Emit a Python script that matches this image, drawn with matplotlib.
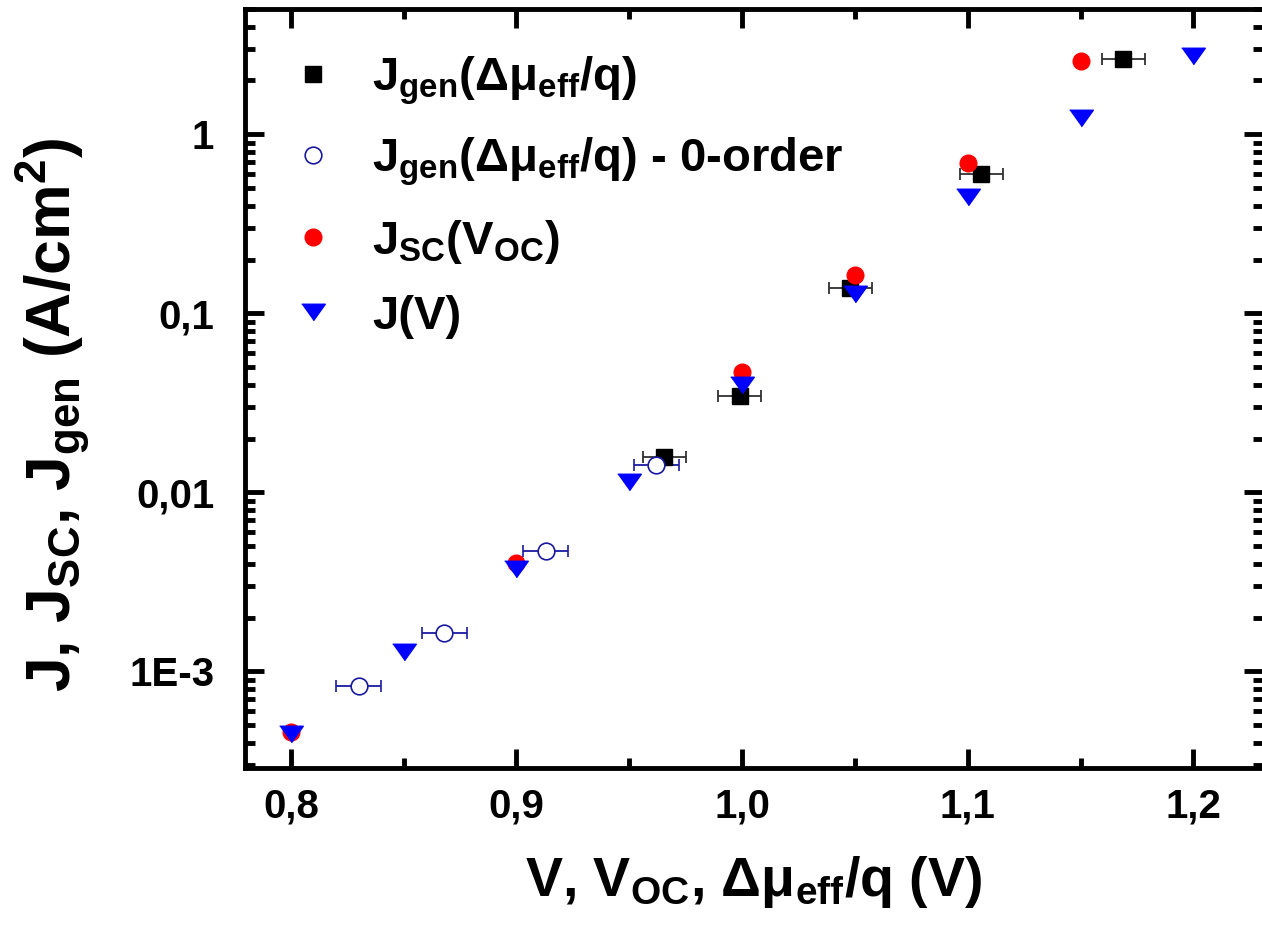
import matplotlib
matplotlib.use("Agg")
import matplotlib.pyplot as plt
from matplotlib.lines import Line2D
from matplotlib.ticker import FixedLocator, LogLocator, MultipleLocator, FuncFormatter, NullFormatter

plt.rcParams['font.family'] = ['Liberation Sans', 'DejaVu Sans']
plt.rcParams['font.weight'] = 'bold'
plt.rcParams['mathtext.fontset'] = 'custom'
plt.rcParams['mathtext.rm'] = 'Liberation Sans:bold'
plt.rcParams['mathtext.it'] = 'Liberation Sans:bold'
plt.rcParams['mathtext.bf'] = 'Liberation Sans:bold'
plt.rcParams['mathtext.sf'] = 'Liberation Sans:bold'

# J_gen(dmu_eff/q)
v_gen = [0.9655, 0.999, 1.048, 1.106, 1.169]
j_gen = [0.0157, 0.0344, 0.138, 0.598, 2.62]
err_gen = [0.0095, 0.0095, 0.0095, 0.0095, 0.0095]

# J_gen 0-order
v_gen0 = [0.830, 0.868, 0.913, 0.962]
j_gen0 = [8.35e-4, 1.65e-3, 4.74e-3, 0.0143]
err_gen0 = [0.01, 0.01, 0.01, 0.01]

# J_SC(V_OC)
v_oc = [0.80, 0.90, 1.00, 1.05, 1.10, 1.15]
j_sc = [4.57e-4, 4.06e-3, 0.0468, 0.163, 0.689, 2.56]

# J(V)
v_jv = [0.80, 0.85, 0.90, 0.95, 1.00, 1.05, 1.10, 1.15, 1.20]
j_jv = [4.5e-4, 1.28e-3, 3.72e-3, 0.0115, 0.0396, 0.128, 0.445, 1.24, 2.73]

ytick_vals = [1e-3, 1e-2, 1e-1, 1]
ytick_text = ['1E-3', '0,01', '0,1', '1']

lab_gen = r'J$_{\mathregular{gen}}$($\mathregular{\Delta\mu_{eff}}$/q)'
lab_gen0 = r'J$_{\mathregular{gen}}$($\mathregular{\Delta\mu_{eff}}$/q) - 0-order'
lab_sc = r'J$_{\mathregular{SC}}$(V$_{\mathregular{OC}}$)'
lab_jv = 'J(V)'

fig = plt.figure(figsize=(12.62, 9.25), dpi=100)
ax = fig.add_axes([0.194, 0.170, 0.807, 0.820])

tri = [(-1, 0.7), (1, 0.7), (0, -0.7)]

ax.errorbar(v_gen, j_gen, xerr=err_gen, fmt='s', color='black', ms=11,
            ecolor='#303030', elinewidth=1.3, capsize=4.5, capthick=1.3, zorder=3)
ax.errorbar(v_gen0, j_gen0, xerr=err_gen0, fmt='o', mfc='white', mec='#1a1aa0',
            mew=1.2, ms=12, ecolor='#1a1aa0', elinewidth=1.3, capsize=4.5, capthick=1.3, zorder=3)
ax.plot(v_oc, j_sc, 'o', color='#ff0000', ms=12, ls='none', zorder=4)
ax.plot(v_jv, j_jv, marker=tri, color='#0000ff', ms=17, ls='none', zorder=5)

ax.set_yscale('log')
ax.set_xlim(0.7796, 1.231)
ax.set_ylim(2.9e-4, 5.0)

ax.xaxis.set_major_locator(MultipleLocator(0.1))
ax.xaxis.set_minor_locator(MultipleLocator(0.05))
ax.xaxis.set_major_formatter(FuncFormatter(lambda v, p: ('%.1f' % v).replace('.', ',')))
ax.yaxis.set_major_locator(FixedLocator(ytick_vals))
ax.yaxis.set_major_formatter(FuncFormatter(
    lambda v, p: ytick_text[ytick_vals.index(min(ytick_vals, key=lambda t: abs(t - v)))]))
ax.yaxis.set_minor_locator(LogLocator(base=10, subs=range(2, 10)))
ax.yaxis.set_minor_formatter(NullFormatter())

ax.tick_params(which='both', direction='in', top=True, right=True, width=3.5)
ax.tick_params(which='major', length=14, labelsize=29)
ax.tick_params(axis='x', which='major', pad=14)
ax.tick_params(axis='y', which='major', pad=22)
ax.tick_params(which='minor', length=7)
for s in ax.spines.values():
    s.set_linewidth(3.5)

ax.set_xlabel(r'V, V$_{\mathregular{OC}}$, $\mathregular{\Delta\mu_{eff}}$/q (V)',
              fontsize=40, fontweight='bold', labelpad=21)
ax.set_ylabel(r'J, J$_{\mathregular{SC}}$, J$_{\mathregular{gen}}$ (A/cm$^{\mathregular{2}}$)',
              fontsize=45, fontweight='bold')
ax.yaxis.set_label_coords(-0.150, 0.465)

handles = [
    Line2D([], [], ls='none', marker='s', color='black', ms=11),
    Line2D([], [], ls='none', marker='o', mfc='white', mec='#1a1aa0', mew=1.2, ms=12),
    Line2D([], [], ls='none', marker='o', color='#ff0000', ms=12),
    Line2D([], [], ls='none', marker=tri, color='#0000ff', ms=17),
]
ax.legend(handles, [lab_gen, lab_gen0, lab_sc, lab_jv], loc='upper left', frameon=False,
          fontsize=34, handletextpad=0.75, labelspacing=0.62, borderaxespad=0.45,
          handlelength=1.0, borderpad=0.5)

fig.savefig('out.png', dpi=100)
